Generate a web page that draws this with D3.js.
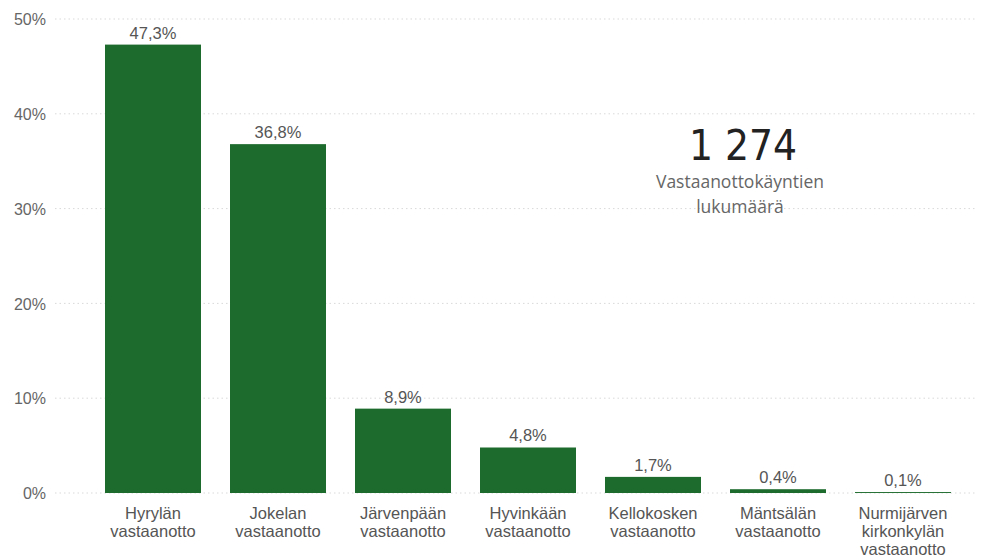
<!DOCTYPE html>
<html><head><meta charset="utf-8">
<script src="https://cdn.jsdelivr.net/npm/d3@7"></script>
<style>body{margin:0;background:#fff}svg{display:block}</style>
</head><body>
<svg id="c" width="989" height="560"></svg>
<script>
const categories = [
  ["Hyrylän","vastaanotto"],
  ["Jokelan","vastaanotto"],
  ["Järvenpään","vastaanotto"],
  ["Hyvinkään","vastaanotto"],
  ["Kellokosken","vastaanotto"],
  ["Mäntsälän","vastaanotto"],
  ["Nurmijärven","kirkonkylän","vastaanotto"]
];
const values = [47.3, 36.8, 8.9, 4.8, 1.7, 0.4, 0.1];
const yTicks = [0, 10, 20, 30, 40, 50];
const kpiValue = "1 274";
const kpiLabel = ["Vastaanottokäyntien", "lukumäärä"];

const svg = d3.select("#c");
const keys = categories.map(c => c.join(" "));
const x = d3.scaleBand().domain(keys).range([90.5, 965.5]).paddingInner(0.232).paddingOuter(0.116);
const y = d3.scaleLinear().domain([0, 50]).range([493, 19]);

// grid
svg.append("g").selectAll("line").data(yTicks).join("line")
  .attr("x1", 55).attr("x2", 975)
  .attr("y1", d => y(d)).attr("y2", d => y(d))
  .attr("stroke", "#d9d9d9").attr("stroke-width", 1).attr("stroke-dasharray", "1.5,3");

// y axis
const yAxis = d3.axisLeft(y).tickValues(yTicks).tickFormat(d => d + "%").tickSize(0).tickPadding(0);
const ga = svg.append("g").attr("transform", "translate(46,0)").call(yAxis);
ga.select(".domain").remove();
ga.selectAll("text").attr("font-family", "Liberation Sans, Arial, sans-serif").attr("font-size", 16).attr("fill", "#666").attr("dy", "0.35em");

// bars
svg.append("g").selectAll("rect").data(values).join("rect")
  .attr("x", (d, i) => x(keys[i]))
  .attr("width", x.bandwidth())
  .attr("y", d => y(d))
  .attr("height", d => y(0) - y(d))
  .attr("fill", "#1e6b2e");

// value labels
svg.append("g").selectAll("text").data(values).join("text")
  .attr("x", (d, i) => x(keys[i]) + x.bandwidth() / 2)
  .attr("y", d => y(d) - 6)
  .attr("text-anchor", "middle")
  .attr("font-family", "Liberation Sans, Arial, sans-serif").attr("font-size", 16.5).attr("fill", "#555")
  .text(d => d.toFixed(1).replace(".", ",") + "%");

// x axis labels
const xAxis = d3.axisBottom(x).tickSize(0).tickFormat("");
const gx = svg.append("g").attr("transform", "translate(0,493)").call(xAxis);
gx.select(".domain").remove();
gx.selectAll(".tick").each(function(d, i) {
  const t = d3.select(this).append("text")
    .attr("text-anchor", "middle")
    .attr("font-family", "Liberation Sans, Arial, sans-serif").attr("font-size", 16.5).attr("fill", "#555");
  categories[i].forEach((line, j) => {
    t.append("tspan").attr("x", 0).attr("y", 26 + j * 18).text(line);
  });
});

// KPI
svg.append("text").attr("x", 743).attr("y", 160).attr("text-anchor", "middle")
  .attr("font-family", "DejaVu Sans Condensed, DejaVu Sans, sans-serif").attr("font-size", 42).attr("fill", "#222")
  .text(kpiValue);
kpiLabel.forEach((l, j) => {
  svg.append("text").attr("x", 740).attr("y", 188 + j * 25).attr("text-anchor", "middle")
    .attr("font-family", "Open Sans, Noto Sans, sans-serif").attr("font-size", 17.5).attr("fill", "#666")
    .text(l);
});
</script>
</body></html>
